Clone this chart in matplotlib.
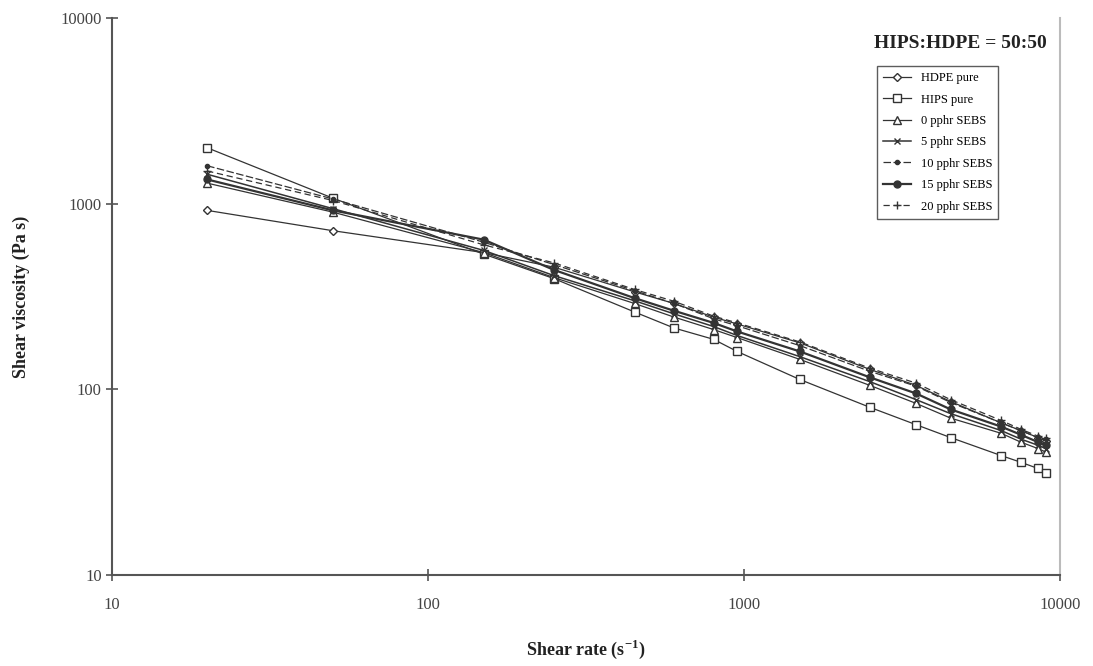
#!/usr/bin/env python3

import matplotlib
matplotlib.use("Agg")
import matplotlib.pyplot as plt

# Shear rate (1/s)
shear_rate = [20, 50, 150, 250, 450, 600, 800, 950, 1500, 2500, 3500, 4500, 6500, 7500, 8500, 9000]

# Shear viscosity (Pa s) for each blend
hdpe_pure = [920, 715, 545, 455, 335, 290, 245, 225, 178, 128, 105, 86, 66, 60, 55, 53]
hips_pure = [2000, 1070, 535, 395, 261, 214, 186, 160, 113, 80, 64.5, 55, 44, 40.5, 37.5, 35.5]
sebs_0 = [1290, 900, 545, 400, 290, 245, 210, 190, 145, 105, 84, 70, 58, 52, 48, 46]
sebs_5 = [1440, 940, 560, 410, 300, 255, 218, 195, 150, 110, 88, 74, 60, 54, 50, 48]
sebs_10 = [1600, 1060, 620, 470, 340, 290, 240, 220, 172, 125, 104, 85, 66, 60, 55, 54]
sebs_15 = [1350, 920, 640, 440, 310, 265, 228, 205, 160, 116, 95, 78, 63, 57, 52, 50]
sebs_20 = [1500, 1040, 600, 480, 345, 298, 248, 228, 180, 130, 108, 88, 68, 61, 56, 55]

labels = ["HDPE pure", "HIPS pure", "0 pphr SEBS", "5 pphr SEBS",
          "10 pphr SEBS", "15 pphr SEBS", "20 pphr SEBS"]


def main():
    plt.rcParams["font.family"] = ["Liberation Serif", "DejaVu Serif"]
    plt.rcParams["mathtext.fontset"] = "custom"
    plt.rcParams["mathtext.rm"] = "Liberation Serif"
    plt.rcParams["mathtext.bf"] = "Liberation Serif:bold"

    fig = plt.figure(figsize=(10.93, 6.66), dpi=100)
    ax = fig.add_axes([0.1025, 0.1366, 0.8675, 0.8364])

    col = "#333333"
    series = [
        (hdpe_pure, dict(marker="D", markersize=4.5, mfc="white", lw=0.9, ls="-")),
        (hips_pure, dict(marker="s", markersize=5.5, mfc="white", lw=0.9, ls="-")),
        (sebs_0, dict(marker="^", markersize=5.5, mfc="white", lw=0.9, ls="-")),
        (sebs_5, dict(marker="x", markersize=4.5, lw=1.1, ls="-")),
        (sebs_10, dict(marker="o", markersize=3, lw=0.9, ls=(0, (6, 2)))),
        (sebs_15, dict(marker="o", markersize=5, lw=1.6, ls="-")),
        (sebs_20, dict(marker="+", markersize=5.5, lw=0.9, ls=(0, (5, 3)))),
    ]
    for (values, style), label in zip(series, labels):
        ax.plot(shear_rate, values, color=col, mec=col, label=label, **style)

    ax.set_xscale("log")
    ax.set_yscale("log")
    ax.set_xlim(10, 10000)
    ax.set_ylim(10, 10000)
    ax.set_xticks([10, 100, 1000, 10000])
    ax.set_xticklabels(["10", "100", "1000", "10000"])
    ax.set_yticks([10, 100, 1000, 10000])
    ax.set_yticklabels(["10", "100", "1000", "10000"])
    ax.minorticks_off()
    ax.tick_params(direction="inout", length=8, width=1.2, colors="#555555",
                   labelsize=12, labelcolor="#444444")
    ax.tick_params(axis="x", pad=12)

    for side in ["left", "bottom"]:
        ax.spines[side].set_color("#555555")
        ax.spines[side].set_linewidth(1.5)
    ax.spines["top"].set_visible(False)
    ax.spines["right"].set_color("#bbbbbb")
    ax.spines["right"].set_linewidth(1.5)

    ax.set_xlabel(r"Shear rate (s$^{\mathbf{-1}}$)", fontsize=13, fontweight="bold",
                  color="#222222", labelpad=18)
    ax.set_ylabel("Shear viscosity (Pa s)", fontsize=13, fontweight="bold",
                  color="#222222", labelpad=22)

    ax.text(0.895, 0.955, "HIPS:HDPE = 50:50", transform=ax.transAxes,
            ha="center", va="center", fontsize=14, fontweight="bold", color="#222222")

    leg = ax.legend(loc="upper left", bbox_to_anchor=(0.80, 0.925), fontsize=9,
                    frameon=True, fancybox=False, handlelength=2.2,
                    labelspacing=0.75, borderpad=0.5)
    leg.get_frame().set_edgecolor("#333333")
    leg.get_frame().set_linewidth(1.0)

    plt.savefig("out.png", dpi=100)
    plt.close()


if __name__ == "__main__":
    main()
